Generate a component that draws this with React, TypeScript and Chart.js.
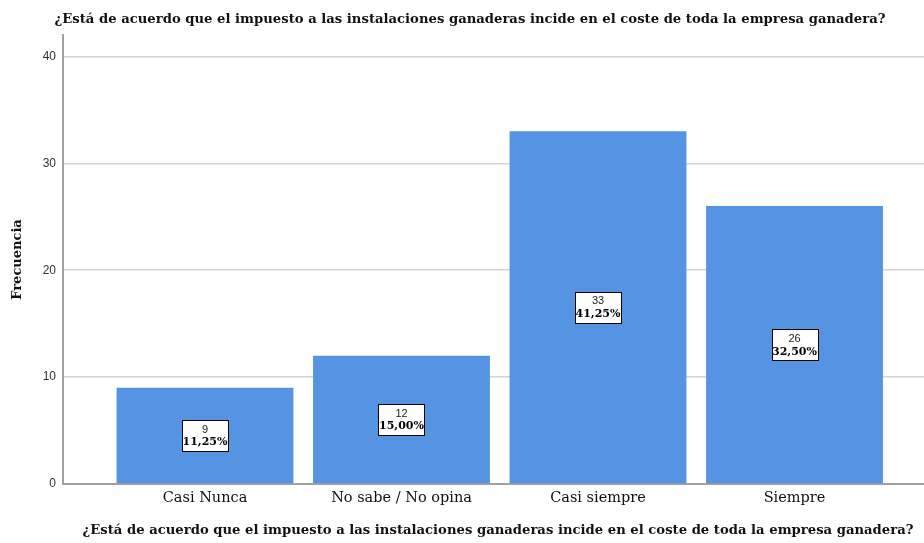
import React, { useEffect, useRef } from "react";
import { Chart, registerables } from "chart.js";

Chart.register(...registerables);

const TITLE = "¿Está de acuerdo que el impuesto a las instalaciones ganaderas incide en el coste de toda la empresa ganadera?";
const categories = ["Casi Nunca", "No sabe / No opina", "Casi siempre", "Siempre"];
const counts = [9, 12, 33, 26];
const percents = ["11,25%", "15,00%", "41,25%", "32,50%"];
const yTicks = [0, 10, 20, 30, 40];
const yAxisTitle = "Frecuencia";

const SERIF = "'DejaVu Serif', 'Liberation Serif', serif";
const SANS = "'Liberation Sans', Arial, sans-serif";

const labelPlugin = {
  id: "boxLabels",
  afterDatasetsDraw(chart: any) {
    const ctx = chart.ctx;
    const meta = chart.getDatasetMeta(0);
    ctx.save();
    meta.data.forEach((bar: any, i: number) => {
      const cx = bar.x;
      const cy = (bar.y + bar.base) / 2;
      const w = 46;
      const h = 31;
      ctx.fillStyle = "#ffffff";
      ctx.fillRect(Math.round(cx - w / 2) + 0.5, Math.round(cy - h / 2) + 0.5, w, h);
      ctx.strokeStyle = "#000000";
      ctx.lineWidth = 1;
      ctx.strokeRect(Math.round(cx - w / 2) + 0.5, Math.round(cy - h / 2) + 0.5, w, h);
      ctx.textAlign = "center";
      ctx.textBaseline = "middle";
      ctx.fillStyle = "#222222";
      ctx.font = "11px " + SANS;
      ctx.fillText(String(counts[i]), cx, cy - 6);
      ctx.fillStyle = "#000000";
      ctx.font = "bold 11px " + SERIF;
      ctx.fillText(percents[i], cx, cy + 7);
    });
    ctx.restore();
  },
};

const titlePlugin = {
  id: "titles",
  afterDraw(chart: any) {
    const ctx = chart.ctx;
    const area = chart.chartArea;
    ctx.save();
    ctx.fillStyle = "#111111";
    ctx.textAlign = "center";
    ctx.textBaseline = "middle";
    ctx.font = "bold 13.2px " + SERIF;
    ctx.fillText(TITLE, 470, 20);
    ctx.fillText(TITLE, 498, 531);
    ctx.translate(18, (area.top + area.bottom) / 2);
    ctx.rotate(-Math.PI / 2);
    ctx.font = "bold 13px " + SERIF;
    ctx.fillText(yAxisTitle, 0, 0);
    ctx.restore();
  },
};

export default function App() {
  const ref = useRef<HTMLCanvasElement>(null);
  useEffect(() => {
    if (!ref.current) return;
    const chart = new Chart(ref.current, {
      type: "bar",
      data: {
        datasets: [
          {
            data: counts.map((c, i) => ({ x: i, y: c })),
            backgroundColor: "#5594e3",
            borderWidth: 0,
            barPercentage: 0.9,
            categoryPercentage: 1,
          },
        ],
      },
      options: {
        responsive: false,
        animation: false,
        devicePixelRatio: 1,
        layout: { padding: { top: 35, left: 0, right: 0, bottom: 0 } },
        plugins: {
          legend: { display: false },
          tooltip: { enabled: false },
          title: { display: false },
        },
        scales: {
          x: {
            type: "linear",
            offset: false,
            min: -0.7226,
            max: 3.659,
            afterBuildTicks: (scale: any) => {
              scale.ticks = categories.map((_, i) => ({ value: i }));
            },
            afterFit: (scale: any) => {
              scale.height = 59;
            },
            grid: { display: false, drawTicks: false },
            border: { display: true, color: "#a0a0a0", width: 2 },
            ticks: {
              padding: 6,
              autoSkip: false,
              maxRotation: 0,
              color: "#111111",
              font: { family: SERIF, size: 14.5 },
              callback: (v: any) => categories[v] ?? "",
            },
          },
          y: {
            type: "linear",
            min: 0,
            max: 42,
            afterBuildTicks: (scale: any) => {
              scale.ticks = yTicks.map((v) => ({ value: v }));
            },
            afterFit: (scale: any) => {
              scale.width = 63;
            },
            grid: { color: "#d4d4d4", lineWidth: 1.5, drawTicks: false },
            border: { display: true, color: "#a0a0a0", width: 2 },
            ticks: {
              padding: 7,
              color: "#333333",
              font: { family: SANS, size: 12 },
            },
          },
        },
      },
      plugins: [labelPlugin, titlePlugin],
    } as any);
    return () => chart.destroy();
  }, []);
  return (
    <div style={{ position: "fixed", left: 0, top: 0, width: 924, height: 543, background: "#fff" }}>
      <canvas ref={ref} width={924} height={543} />
    </div>
  );
}
